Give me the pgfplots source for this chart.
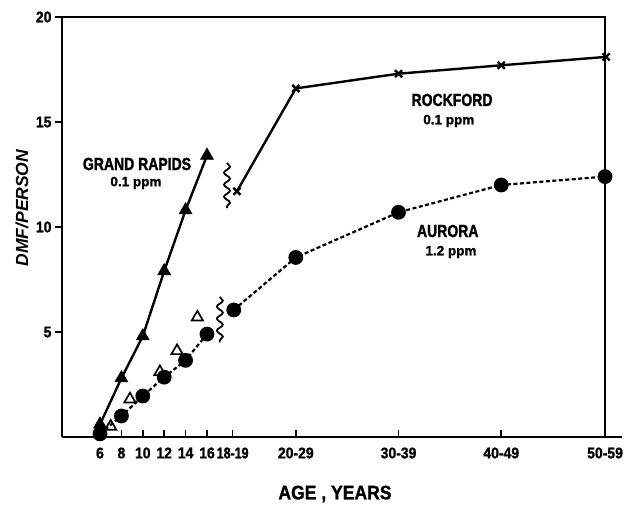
\documentclass[border=0pt]{standalone}
\usepackage{fontspec}
\setmainfont{Liberation Sans}[BoldFeatures={FakeBold=1.5}]
\newfontfamily\cond{Liberation Sans}[FakeStretch=0.8, BoldFeatures={FakeBold=1.5}]
\newfontfamily\semicond{Liberation Sans}[FakeStretch=0.9, BoldFeatures={FakeBold=1.2}]
\usepackage{pgfplots}
\pgfplotsset{compat=1.18}
\usetikzlibrary{decorations.pathmorphing}

\begin{document}
\begin{tikzpicture}
\path[use as bounding box] (-62pt,-68pt) rectangle (568pt,437pt);
\begin{axis}[
  at={(0,0)}, anchor=south west,
  scale only axis, width=560pt, height=420pt,
  xmin=2.449, xmax=54.785, ymin=0, ymax=20,
  axis x line=bottom, axis y line=left,
  axis line style={line width=2.2pt, -},
  clip=false,
  xtick={6,8,10,12,14,16,18.4,24.3,33.9,43.5,53.2},
  xticklabels={6,8,10,12,14,16,{\cond 18-19},20-29,30-39,40-49,50-59},
  ytick={5,10,15,20},
  tick align=outside,
  major tick length=7pt,
  tick style={black, line width=1.6pt},
  xtick style={yshift=7pt},
  xticklabel style={font=\semicond\bfseries\fontsize{15.5}{16}\selectfont},
  yticklabel style={font=\semicond\bfseries\fontsize{15.5}{16}\selectfont},
  /pgf/number format/assume math mode=true,
  xlabel={AGE , YEARS},
  xlabel style={at={(axis description cs:0.4875,-0.1357)}, anchor=center,
    font=\semicond\bfseries\fontsize{19.5}{20}\selectfont},
  ylabel={DMF/PERSON},
  ylabel style={at={(axis description cs:-0.0714,0.545)}, anchor=center,
    font=\bfseries\itshape\fontsize{17.5}{18}\selectfont},
]
% Grand Rapids, 0.1 ppm
\addplot[line width=2.4pt, mark=triangle*, mark size=7.5pt,
  mark options={solid, line width=0.6pt}]
  coordinates {(6,0.6) (8,2.8) (10,4.8) (12,7.9) (14,10.8) (16,13.4)};
% open triangles, no connecting line
\addplot[only marks, mark=triangle, mark size=6.5pt,
  mark options={line width=1.7pt}]
  coordinates {(7.0,0.5) (8.8,1.8) (11.6,3.1) (13.2,4.1) (15.1,5.7)};
% Aurora, 1.2 ppm (school ages)
\addplot[line width=2.2pt, dash pattern=on 4pt off 2.5pt, mark=*, mark size=6.3pt,
  mark options={solid}]
  coordinates {(6,0.15) (8,1.0) (10,1.95) (12,2.85) (14,3.65) (16,4.9)};
% Aurora, 1.2 ppm (adult age groups)
\addplot[line width=2.2pt, dash pattern=on 4pt off 2.5pt, mark=*, mark size=6.3pt,
  mark options={solid}]
  coordinates {(18.5,6.05) (24.3,8.55) (33.9,10.7) (43.5,12.0) (53.2,12.4)};
% Rockford, 0.1 ppm
\addplot[line width=2.4pt, mark=x, mark size=5pt,
  mark options={line width=2.4pt}]
  coordinates {(18.8,11.7) (24.3,16.6) (33.9,17.3) (43.5,17.7) (53.3,18.1)};

% top and right frame
\draw[line width=2.2pt] (axis cs:2.449,20) -- (axis cs:53.2,20) -- (axis cs:53.2,0);

% scale breaks between the age 16 and 18-19 groups
\draw[line width=1.8pt, decorate, decoration={snake, amplitude=3pt, segment length=12pt}]
  (axis cs:17.87,13.05) -- (axis cs:17.87,10.9);
\draw[line width=1.8pt, decorate, decoration={snake, amplitude=3pt, segment length=12pt}]
  (axis cs:17.2,6.67) -- (axis cs:17.2,4.5);

% curve labels
\node[font=\cond\bfseries\fontsize{17.5}{18}\selectfont] at (axis cs:9.46,13.0) {GRAND RAPIDS};
\node[font=\bfseries\fontsize{13.5}{14}\selectfont] at (axis cs:9.36,12.1) {0.1 ppm};
\node[font=\cond\bfseries\fontsize{17.5}{18}\selectfont] at (axis cs:38.9,16.05) {ROCKFORD};
\node[font=\bfseries\fontsize{13.5}{14}\selectfont] at (axis cs:38.6,15.05) {0.1 ppm};
\node[font=\cond\bfseries\fontsize{17.5}{18}\selectfont] at (axis cs:38.5,9.81) {AURORA};
\node[font=\bfseries\fontsize{13.5}{14}\selectfont] at (axis cs:38.8,8.81) {1.2 ppm};
\end{axis}
\end{tikzpicture}
\end{document}
